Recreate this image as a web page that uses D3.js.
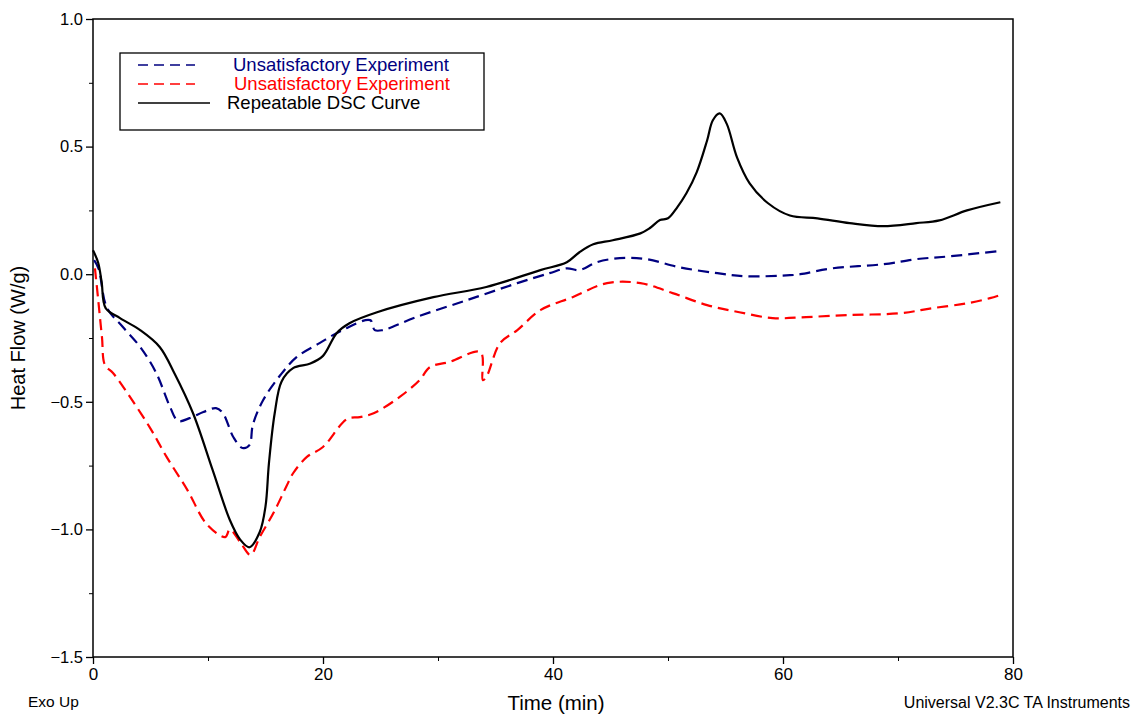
<!DOCTYPE html>
<html>
<head>
<meta charset="utf-8">
<script src="https://cdn.jsdelivr.net/npm/d3@7"></script>
<style>
  html, body { margin: 0; padding: 0; background: #fff; }
  svg { display: block; font-family: "Liberation Sans", Arial, sans-serif; }
</style>
</head>
<body>
<svg id="chart" width="1133" height="715"></svg>
<script>
// Heat flow traces, [time (min), heat flow (W/g)]
const repeatableCurve = [
  [0, 0.094], [0.45, 0.045], [0.75, -0.03], [1.1, -0.133], [2.35, -0.172], [4.1, -0.219], [5.8, -0.285],
  [7.1, -0.39], [8.7, -0.545], [10.4, -0.767], [11.9, -0.963], [12.8, -1.04], [13.6, -1.07],
  [14.5, -1.01], [15.0, -0.91], [15.3, -0.74], [15.8, -0.545], [16.4, -0.42], [17.4, -0.368],
  [18.9, -0.35], [20.0, -0.32], [21.2, -0.23], [22.3, -0.192], [24.7, -0.149], [29.6, -0.09],
  [34.2, -0.05], [38.9, 0.016], [41.2, 0.047], [42.3, 0.086], [43.5, 0.117], [45.2, 0.133],
  [47.6, 0.16], [48.4, 0.18], [49.3, 0.212], [50.0, 0.219], [50.8, 0.262], [51.6, 0.317],
  [52.5, 0.4], [53.4, 0.524], [53.9, 0.603], [54.5, 0.63], [55.1, 0.59], [56.0, 0.458],
  [57.1, 0.356], [58.7, 0.278], [60.6, 0.23], [63, 0.219], [65.8, 0.2], [68.7, 0.188],
  [71.6, 0.2], [73.6, 0.211], [76, 0.25], [78.9, 0.282]
];
const blueExperiment = [
  [0.1, 0.055], [0.5, 0.02], [1.2, -0.13], [2.6, -0.207], [4.1, -0.285], [5.5, -0.387],
  [6.7, -0.52], [7.4, -0.575], [8.4, -0.564], [9.6, -0.54], [10.7, -0.525], [11.3, -0.545],
  [12.2, -0.638], [13.0, -0.681], [13.6, -0.67], [13.9, -0.59], [14.8, -0.493], [16.3, -0.395],
  [17.7, -0.325], [19.7, -0.27], [21.7, -0.219], [24.1, -0.18], [24.5, -0.219], [25.2, -0.219],
  [28.1, -0.168], [32.5, -0.102], [36.9, -0.035], [39.7, 0.004], [41.2, 0.023], [42.3, 0.016],
  [43.8, 0.047], [45.8, 0.063], [48.1, 0.059], [51, 0.027], [54.3, 0.004], [56.8, -0.008],
  [60.6, -0.004], [61.5, 0], [64.3, 0.023], [68.7, 0.039], [71.6, 0.059], [74.5, 0.07], [78.6, 0.09]
];
const redExperiment = [
  [0.17, 0.023], [0.43, -0.09], [0.78, -0.247], [1.04, -0.356], [1.74, -0.387], [3.2, -0.48],
  [5, -0.605], [6.4, -0.716], [8.2, -0.845], [9.9, -0.98], [11.5, -1.03], [11.9, -1.0],
  [12.8, -1.05], [13.7, -1.1], [14.5, -1.03], [15.7, -0.935], [16.8, -0.833], [17.4, -0.78],
  [18.6, -0.716], [20, -0.677], [22.1, -0.567], [23.2, -0.56], [24.4, -0.545], [26.7, -0.48],
  [28.4, -0.415], [29.3, -0.364], [31, -0.344], [33.7, -0.305], [33.9, -0.415], [34.2, -0.403],
  [35.4, -0.27], [36.9, -0.219], [38.9, -0.141], [41.7, -0.09], [44.7, -0.035], [47.6, -0.035],
  [50.4, -0.074], [53.4, -0.121], [56.2, -0.149], [59.1, -0.172], [62, -0.168], [65.8, -0.16],
  [70.2, -0.153], [73, -0.133], [76, -0.114], [78, -0.094], [78.9, -0.082]
];

const xMajorTicks = [0, 20, 40, 60, 80];
const xMinorTicks = [10, 30, 50, 70];
const yMajorTicks = [1.0, 0.5, 0.0, -0.5, -1.0, -1.5];
const yMinorTicks = [0.75, 0.25, -0.25, -0.75, -1.25];

const legendItems = [
  { label: "Unsatisfactory Experiment", color: "#000080", dash: "10,6", len: 57, textX: 233 },
  { label: "Unsatisfactory Experiment", color: "#ff0000", dash: "10,6", len: 57, textX: 234 },
  { label: "Repeatable DSC Curve", color: "#000000", dash: null, len: 72, textX: 227 }
];

const margin = { left: 93, top: 19, right: 120, bottom: 58 };
const W = 1133, H = 715;
const pw = W - margin.left - margin.right;   // 920
const ph = H - margin.top - margin.bottom;   // 638

const svg = d3.select("#chart");
const g = svg.append("g").attr("transform", `translate(${margin.left},${margin.top})`);

const x = d3.scaleLinear().domain([0, 80]).range([0, pw]);
const y = d3.scaleLinear().domain([-1.5, 1.0]).range([ph, 0]);

// frame
g.append("rect").attr("x", 0).attr("y", 0).attr("width", pw).attr("height", ph)
  .attr("fill", "none").attr("stroke", "#000").attr("stroke-width", 1.5);

// y axis
const yAxis = g.append("g")
  .call(d3.axisLeft(y).tickValues(yMajorTicks).tickFormat(d3.format(".1f")).tickSize(7).tickPadding(3));
yAxis.select(".domain").remove();
yAxis.selectAll("line").attr("stroke-width", 1.3);
yAxis.selectAll("text").attr("font-size", 16.5).attr("fill", "#000")
  .attr("font-family", "'Liberation Sans', Arial, sans-serif");
const yMinor = g.append("g").call(d3.axisLeft(y).tickValues(yMinorTicks).tickFormat("").tickSize(4));
yMinor.select(".domain").remove();

// x axis
const xAxis = g.append("g").attr("transform", `translate(0,${ph})`)
  .call(d3.axisBottom(x).tickValues(xMajorTicks).tickFormat(d3.format("d")).tickSize(7).tickPadding(4));
xAxis.select(".domain").remove();
xAxis.selectAll("line").attr("stroke-width", 1.3);
xAxis.selectAll("text").attr("font-size", 17).attr("fill", "#000")
  .attr("font-family", "'Liberation Sans', Arial, sans-serif");
const xMinor = g.append("g").attr("transform", `translate(0,${ph})`)
  .call(d3.axisBottom(x).tickValues(xMinorTicks).tickFormat("").tickSize(4));
xMinor.select(".domain").remove();

// axis titles
svg.append("text").attr("x", 556).attr("y", 710).attr("text-anchor", "middle")
  .attr("font-size", 20.5).text("Time (min)");
svg.append("text").attr("transform", "translate(25,338) rotate(-90)").attr("text-anchor", "middle")
  .attr("font-size", 20).text("Heat Flow (W/g)");
svg.append("text").attr("x", 28).attr("y", 707).attr("font-size", 15.5).text("Exo Up");
svg.append("text").attr("x", 1130).attr("y", 708).attr("text-anchor", "end")
  .attr("font-size", 16).text("Universal V2.3C TA Instruments");

// curves
const line = d3.line().x(d => x(d[0])).y(d => y(d[1])).curve(d3.curveCatmullRom.alpha(0.5));
const plot = g.append("g");
plot.append("path").datum(redExperiment).attr("d", line)
  .attr("fill", "none").attr("stroke", "#ff0000").attr("stroke-width", 2.2).attr("stroke-dasharray", "11,6");
plot.append("path").datum(blueExperiment).attr("d", line)
  .attr("fill", "none").attr("stroke", "#000080").attr("stroke-width", 2.2).attr("stroke-dasharray", "11,6");
plot.append("path").datum(repeatableCurve).attr("d", line)
  .attr("fill", "none").attr("stroke", "#000").attr("stroke-width", 2.2);

// legend
const lg = svg.append("g");
lg.append("rect").attr("x", 120).attr("y", 53).attr("width", 364).attr("height", 77)
  .attr("fill", "#fff").attr("stroke", "#000").attr("stroke-width", 1.3);
legendItems.forEach((it, i) => {
  const ly = 65 + i * 19;
  lg.append("line").attr("x1", 138).attr("x2", 138 + it.len).attr("y1", ly).attr("y2", ly)
    .attr("stroke", it.color).attr("stroke-width", 1.3)
    .attr("stroke-dasharray", it.dash);
  lg.append("text").attr("x", it.textX).attr("y", ly + 6).attr("font-size", 18.5)
    .attr("fill", it.color).text(it.label);
});
</script>
</body>
</html>
